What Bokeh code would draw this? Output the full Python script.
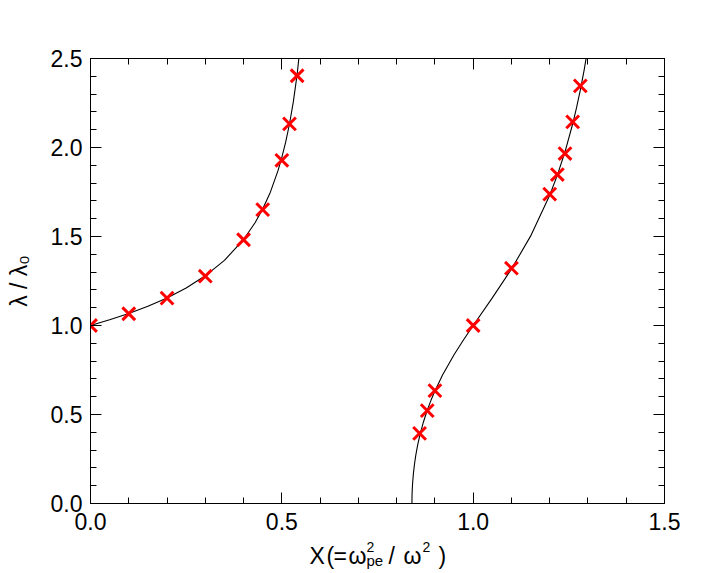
from bokeh.plotting import figure
from bokeh.layouts import column
from bokeh.models import Range1d, LinearAxis, SingleIntervalTicker, PrintfTickFormatter
from bokeh.core.properties import value
from bokeh.embed import file_html
from bokeh.resources import INLINE

# ---- data ----
# solid curve, left branch (X, lambda/lambda0)
curve_left_x = [0.0, 0.05, 0.10, 0.15, 0.20, 0.25, 0.30, 0.35, 0.40, 0.43, 0.45, 0.47,
                0.49, 0.50, 0.51, 0.52, 0.53, 0.54, 0.55]
curve_left_y = [1.000, 1.032, 1.067, 1.108, 1.155, 1.211, 1.279, 1.366, 1.483, 1.577, 1.654, 1.749,
                1.870, 1.944, 2.030, 2.132, 2.256, 2.411, 2.612]
# solid curve, right branch
curve_right_x = [0.8400, 0.8402, 0.8405, 0.841, 0.842, 0.844, 0.847, 0.850, 0.855, 0.860, 0.870,
                 0.880, 0.890, 0.900, 0.920, 0.950, 0.975, 1.000, 1.050, 1.100, 1.150, 1.200,
                 1.220, 1.240, 1.260, 1.270, 1.280, 1.290, 1.300]
curve_right_y = [0.000, 0.039, 0.061, 0.086, 0.122, 0.172, 0.226, 0.270, 0.329, 0.377, 0.458,
                 0.524, 0.581, 0.632, 0.722, 0.836, 0.920, 1.000, 1.155, 1.317, 1.502, 1.732,
                 1.845, 1.976, 2.132, 2.222, 2.322, 2.435, 2.564]
# red cross markers
marker_left_x = [0.0, 0.1, 0.2, 0.3, 0.4, 0.45, 0.5, 0.52, 0.54]
marker_left_y = [1.0, 1.066, 1.154, 1.277, 1.482, 1.651, 1.928, 2.133, 2.403]
marker_right_x = [0.86, 0.88, 0.90, 1.0, 1.1, 1.2, 1.22, 1.24, 1.26, 1.28]
marker_right_y = [0.394, 0.522, 0.634, 1.0, 1.322, 1.738, 1.848, 1.966, 2.144, 2.346]

x_start, x_end = 0.0, 1.5
y_start, y_end = 0.0, 2.5
y_title = "λ / λ₀"

FONT = "Liberation Sans"

# ---- layout (pixels) ----
W = 709
B_LEFT, B_TOP, B_RIGHT, B_BOTTOM = 90, 58, 45, 35
FRAME_W = W - B_LEFT - B_RIGHT           # 574
FRAME_H = 445
MAIN_H = B_TOP + FRAME_H + B_BOTTOM      # 538, fixed
STRIP_H = 573 - MAIN_H                   # strip with the x title
TXT_OFF = 5                              # glyph baseline correction (px)

p = figure(width=W, height=MAIN_H, output_backend="svg", toolbar_location=None,
           x_range=Range1d(x_start, x_end), y_range=Range1d(y_start, y_end),
           min_border_left=B_LEFT, min_border_top=B_TOP,
           min_border_right=B_RIGHT, min_border_bottom=B_BOTTOM,
           x_axis_location=None, y_axis_location=None)
p.grid.visible = False
p.outline_line_color = "black"
p.outline_line_width = 1
p.background_fill_color = "white"
p.border_fill_color = "white"


def make_axis(show_labels, standoff):
    ax = LinearAxis(ticker=SingleIntervalTicker(interval=0.5, num_minor_ticks=5),
                    formatter=PrintfTickFormatter(format="%.1f"))
    ax.axis_line_color = "black"
    ax.axis_line_width = 1
    ax.major_tick_in = 11
    ax.major_tick_out = 0
    ax.minor_tick_in = 6
    ax.minor_tick_out = 0
    ax.major_tick_line_color = "black"
    ax.minor_tick_line_color = "black"
    ax.major_label_standoff = standoff
    if show_labels:
        ax.major_label_text_font = FONT
        ax.major_label_text_font_size = "23px"
        ax.major_label_text_color = "black"
    else:
        ax.major_label_text_font_size = "0px"
        ax.major_label_text_alpha = 0
    return ax


xaxis = make_axis(True, 9)
yaxis = make_axis(True, 8)
yaxis.axis_label = y_title
yaxis.axis_label_text_font = FONT
yaxis.axis_label_text_font_size = "23px"
yaxis.axis_label_text_font_style = "normal"
yaxis.axis_label_text_color = "black"
yaxis.axis_label_standoff = 16
p.add_layout(xaxis, "below")
p.add_layout(yaxis, "left")
p.add_layout(make_axis(False, 0), "above")
p.add_layout(make_axis(False, 0), "right")

p.line(curve_left_x, curve_left_y, line_color="black", line_width=1.1)
p.line(curve_right_x, curve_right_y, line_color="black", line_width=1.1)
p.scatter(marker_left_x, marker_left_y, marker="x", size=18, line_color="red", line_width=3)
p.scatter(marker_right_x, marker_right_y, marker="x", size=18, line_color="red", line_width=3)

# ---- x title strip: X (= ω²_pe / ω²) ----
# in a column the strip's frame lines up with the plot frame, so it shares the x range
xs = figure(width=W, height=STRIP_H, output_backend="svg", toolbar_location=None,
            x_range=Range1d(x_start, x_end), y_range=Range1d(STRIP_H, 0),
            min_border_left=B_LEFT, min_border_right=B_RIGHT,
            min_border_top=0, min_border_bottom=0,
            x_axis_location=None, y_axis_location=None)
xs.grid.visible = False
xs.outline_line_color = None
xs.background_fill_color = "white"
xs.border_fill_color = "white"


def put(txt, px, py, size):
    # px, py: page pixel position of the text's left end and baseline
    xd = x_start + (px - B_LEFT) * (x_end - x_start) / FRAME_W
    xs.text(x=[xd], y=[py - MAIN_H - TXT_OFF], text=[txt], text_font=value(FONT),
            text_font_size=value(size), text_color="black",
            text_align="left", text_baseline="alphabetic")


put("X", 309, 560, "23px")
put("(", 326, 560, "23px")
put("=", 333, 560, "23px")
put("ω", 348, 560, "23px")
put("2", 366, 551, "14px")
put("pe", 366, 564.5, "15px")
put("/", 388, 560, "23px")
put("ω", 403, 560, "23px")
put("2", 422, 551, "14px")
put(")", 438, 560, "23px")

layout = column(p, xs, spacing=0)

open("out.html", "w").write(file_html(layout, INLINE))
